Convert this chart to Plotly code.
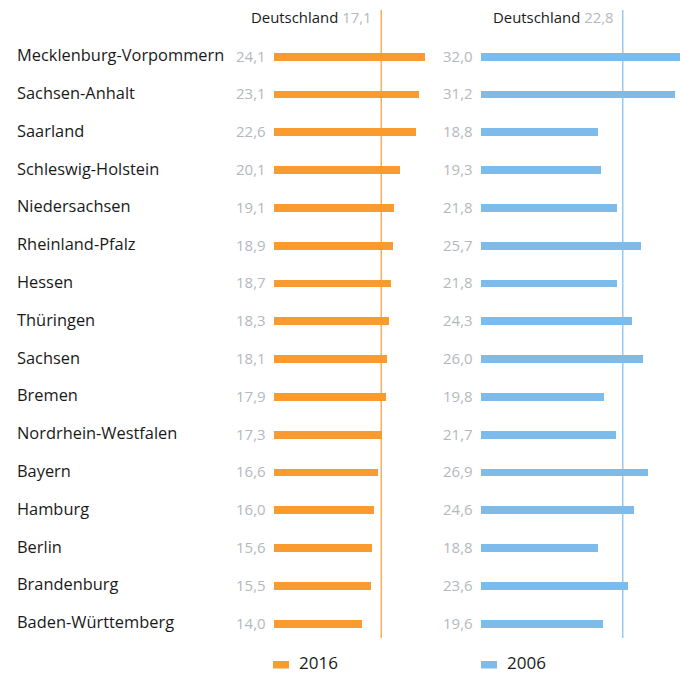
import plotly.graph_objects as go

states = ["Mecklenburg-Vorpommern", "Sachsen-Anhalt", "Saarland", "Schleswig-Holstein",
          "Niedersachsen", "Rheinland-Pfalz", "Hessen", "Thüringen", "Sachsen", "Bremen",
          "Nordrhein-Westfalen", "Bayern", "Hamburg", "Berlin", "Brandenburg", "Baden-Württemberg"]
v2016 = [24.1, 23.1, 22.6, 20.1, 19.1, 18.9, 18.7, 18.3, 18.1, 17.9, 17.3, 16.6, 16.0, 15.6, 15.5, 14.0]
v2006 = [32.0, 31.2, 18.8, 19.3, 21.8, 25.7, 21.8, 24.3, 26.0, 19.8, 21.7, 26.9, 24.6, 18.8, 23.6, 19.6]
de2016 = 17.1
de2006 = 22.8
years = ["2016", "2006"]

W, H = 680, 674
ORANGE = "#F99B2F"
BLUE = "#7DBCEA"
GRAY = "#B4B8BD"
DARK = "#1A1A1A"
FONT = "Open Sans"

def fmt(v):
    return f"{v:.1f}".replace(".", ",")

idx = list(range(len(states)))
row0, step = 56.6, 37.8
def ypx_to_i(y):
    return (y - row0) / step

fig = go.Figure()
fig.add_trace(go.Bar(x=v2016, y=idx, orientation="h", width=7.8 / step,
                     marker=dict(color=ORANGE, line=dict(width=0)), xaxis="x", yaxis="y",
                     name=years[0], showlegend=False, hoverinfo="x"))
fig.add_trace(go.Bar(x=v2006, y=idx, orientation="h", width=7.8 / step,
                     marker=dict(color=BLUE, line=dict(width=0)), xaxis="x2", yaxis="y",
                     name=years[1], showlegend=False, hoverinfo="x"))

x1_lo, x1_range = 274, 25.0
x1_hi = x1_lo + x1_range * 6.27
x2_lo, x2_range = 481, 32.0
x2_hi = 680

fig.update_layout(
    width=W, height=H, margin=dict(l=0, r=0, t=0, b=0),
    paper_bgcolor="white", plot_bgcolor="rgba(0,0,0,0)",
    showlegend=False, bargap=0,
    xaxis=dict(domain=[x1_lo / W, x1_hi / W], range=[0, x1_range], visible=False, fixedrange=True),
    xaxis2=dict(domain=[x2_lo / W, x2_hi / W], range=[0, x2_range], visible=False, fixedrange=True),
    yaxis=dict(domain=[0, 1], range=[ypx_to_i(H), ypx_to_i(0)], visible=False, fixedrange=True),
)

shapes = []
for xref, val, col in [("x", de2016, ORANGE), ("x2", de2006, BLUE)]:
    shapes.append(dict(type="line", xref=xref, yref="y", x0=val, x1=val,
                       y0=ypx_to_i(10), y1=ypx_to_i(638), line=dict(color=col, width=1.2)))
# legend swatches
for xp, col in [(273, ORANGE), (481, BLUE)]:
    shapes.append(dict(type="rect", xref="paper", yref="paper",
                       x0=xp / W, x1=(xp + 16) / W, y0=1 - 668.5 / H, y1=1 - 661 / H,
                       line=dict(width=0), fillcolor=col))
fig.update_layout(shapes=shapes)

ann = []
for i, s in zip(idx, states):
    ann.append(dict(x=16 / W, xref="paper", y=i, yref="y", text=s, showarrow=False,
                    xanchor="left", yanchor="middle", xshift=-1, yshift=2,
                    font=dict(family=FONT, size=16.4, color=DARK)))
for xref, vals in [("x", v2016), ("x2", v2006)]:
    for i, v in zip(idx, vals):
        ann.append(dict(x=0, xref=xref, y=i, yref="y", text=fmt(v), showarrow=False,
                        xanchor="right", yanchor="middle", xshift=-6, yshift=1,
                        font=dict(family=FONT, size=15, color=GRAY)))
for xref, val in [("x", de2016), ("x2", de2006)]:
    ann.append(dict(x=val, xref=xref, y=ypx_to_i(17), yref="y",
                    text=f"Deutschland <span style='color:{GRAY}'>{fmt(val)}</span>",
                    showarrow=False, xanchor="right", yanchor="middle", xshift=-7,
                    font=dict(family=FONT, size=14.9, color=DARK)))
for xp, yr in [(297, years[0]), (505, years[1])]:
    ann.append(dict(x=xp / W, xref="paper", y=1 - 662.5 / H, yref="paper", text=yr, showarrow=False,
                    xanchor="left", yanchor="middle", font=dict(family=FONT, size=17, color=DARK)))
fig.update_layout(annotations=ann)

fig.write_html("out.html", config={"displayModeBar": False},
               post_script="document.body.style.margin='0';")
